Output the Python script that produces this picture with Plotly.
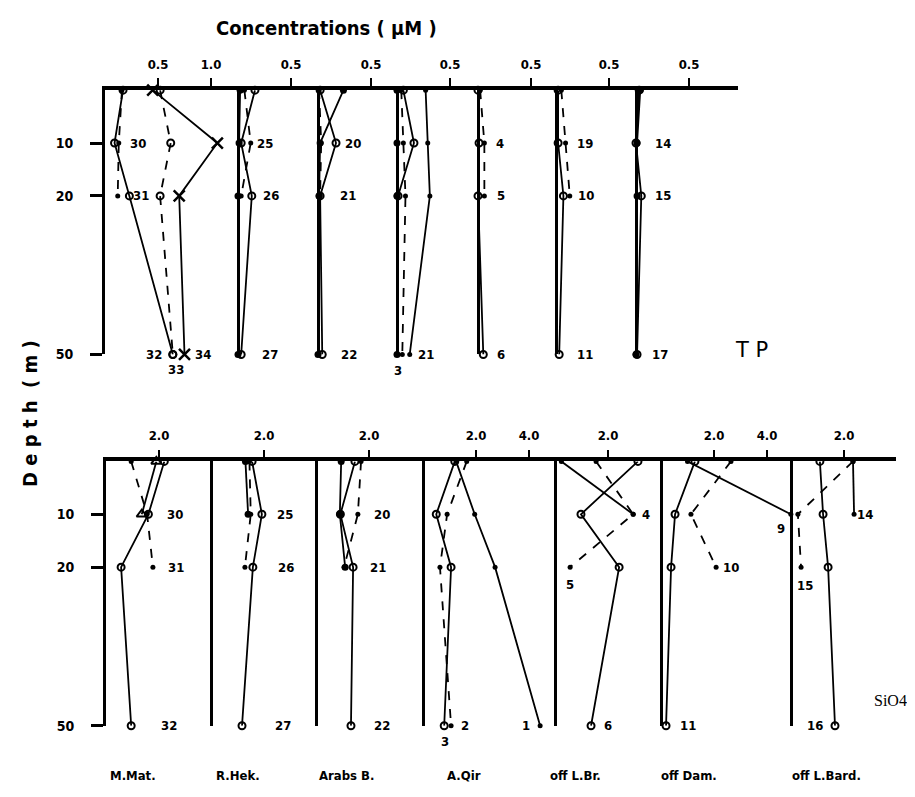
import plotly.graph_objects as go

# ---------------- data ----------------
DEPTHS = [0, 10, 20, 50]
STATIONS = ["M.Mat.", "R.Hek.", "Arabs B.", "A.Qir", "off L.Br.", "off Dam.", "off L.Bard."]

# Total phosphorus (µM), values at DEPTHS (shorter lists stop at 20 m)
TP_MMAT_OPEN = [0.17, 0.09, 0.23, 0.64]
TP_MMAT_X = [0.45, 1.06, 0.70, 0.75]
TP_MMAT_DASHO = [0.52, 0.62, 0.52, 0.64]
TP_MMAT_DASH = [0.16, 0.13, 0.12]
TP_RHEK_OPEN = [0.16, 0.03, 0.13, 0.03]
TP_RHEK_DASH = [0.06, 0.12, 0.03]
TP_RHEK_FILL = [0.02, 0.01, 0.0, 0.0]
TP_ARABS_OPEN = [0.02, 0.17, 0.02, 0.04]
TP_ARABS_FILL = [0.24, 0.02, 0.01, 0.0]
TP_ARABS_DASH = [0.01, 0.03, 0.02]
TP_AQIR_FILL = [0.27, 0.29, 0.31, 0.12]
TP_AQIR_OPEN = [0.06, 0.16, 0.01]
TP_AQIR_BASE = [0.0, 0.0, 0.0, 0.0]
TP_AQIR_DASH = [0.04, 0.06, 0.08, 0.05]
TP_LBR_DASH = [0.02, 0.06, 0.06]
TP_LBR_OPEN = [0.0, 0.01, 0.0, 0.05]
TP_DAM_OPEN = [0.02, 0.02, 0.07, 0.03]
TP_DAM_DASH = [0.05, 0.09, 0.13]
TP_BARD_OPEN = [0.03, 0.0, 0.05, 0.01]
TP_BARD_FILL = [0.04, 0.01, 0.01, 0.0]

# Silicate (µM)
SI_MMAT_OPEN = [2.2, 1.6, 0.57, 0.95]
SI_MMAT_TRI = [1.9, 1.35]
SI_MMAT_DASH = [0.95, 1.55, 1.77]
SI_RHEK_OPEN = [1.55, 1.92, 1.58, 1.17]
SI_RHEK_FILL = [1.3, 1.4]
SI_RHEK_DASH = [1.45, 1.5, 1.28]
SI_ARABS_OPEN = [1.47, 0.92, 1.4, 1.32]
SI_ARABS_FILL = [0.95, 0.9, 1.1]
SI_ARABS_DASH = [1.7, 1.58, 1.06]
SI_AQIR_DOT = [1.25, 1.95, 2.72, 4.42]
SI_AQIR_OPEN = [1.2, 0.5, 1.06, 0.8]
SI_AQIR_DASH = [1.65, 0.91, 0.64, 1.06]
SI_LBR_DOT = [0.24, 2.95]
SI_LBR_OPEN = [3.13, 0.98, 2.42, 1.36]
SI_LBR_DASH = [1.55, 2.95, 0.57]
SI_DAM_DOT = [1.0, 4.9]
SI_DAM_OPEN = [1.28, 0.53, 0.38, 0.19]
SI_DAM_DASH = [2.64, 1.13, 2.08]
SI_BARD_OPEN = [1.09, 1.21, 1.40, 1.66]
SI_BARD_DOT = [2.34, 2.38]
SI_BARD_DASH = [2.34, 0.26, 0.38]

TP_TICKS = [[0.5, 1.0], [0.5], [0.5], [0.5], [0.5], [0.5], [0.5]]
SI_TICKS = [[2.0], [2.0], [2.0], [2.0, 4.0], [2.0], [2.0, 4.0], [2.0]]
DEPTH_TICKS = [10, 20, 50]

# station numbers
TP_LABEL_TEXT = [["30", "31", "32", "33", "34"], ["25", "26", "27"], ["20", "21", "22"],
                 ["21", "3"], ["4", "5", "6"], ["19", "10", "11"], ["14", "15", "17"]]
SI_LABEL_TEXT = [["30", "31", "32"], ["25", "26", "27"], ["20", "21", "22"],
                 ["1", "2", "3"], ["4", "5", "6"], ["9", "10", "11"], ["14", "15", "16"]]

# ---------------- layout constants (pixels) ----------------
W, H = 915, 797
TOP_BASE = [97, 230, 310, 389, 470, 548, 628]
TOP_END = 730
TOP_PPU = 106.0
BOT_BASE = [98, 203, 308, 415, 547, 653, 783]
BOT_END = 888
BOT_PPU = 26.5
TOP_Y0, TOP_Y50 = 83, 350
BOT_Y0, BOT_Y50 = 458, 725
FONT = "DejaVu Sans Condensed, DejaVu Sans, sans-serif"

# label placement (value units, depth, pixel shift down) per column
TP_LABEL_POS = [[(0.31, 10, 0), (0.34, 20, 0), (0.46, 50, 0), (0.67, 50, 15), (0.92, 50, 0)],
                [(0.25, 10, 0), (0.31, 20, 0), (0.30, 50, 0)],
                [(0.33, 10, 0), (0.28, 20, 0), (0.29, 50, 0)],
                [(0.27, 50, 0), (0.01, 50, 16)],
                [(0.21, 10, 0), (0.22, 20, 0), (0.22, 50, 0)],
                [(0.27, 10, 0), (0.28, 20, 0), (0.27, 50, 0)],
                [(0.25, 10, 0), (0.25, 20, 0), (0.23, 50, 0)]]
SI_LABEL_POS = [[(2.6, 10, 0), (2.64, 20, 0), (2.38, 50, 0)],
                [(2.8, 10, 0), (2.83, 20, 0), (2.72, 50, 0)],
                [(2.49, 10, 0), (2.34, 20, 0), (2.49, 50, 0)],
                [(3.9, 50, 0), (1.58, 50, 0), (0.83, 50, 16)],
                [(3.43, 10, 0), (0.57, 23.3, 0), (2.0, 50, 0)],
                [(4.53, 12.6, 0), (2.64, 20, 0), (1.02, 50, 0)],
                [(2.79, 10, 0), (0.53, 23.4, 0), (0.9, 50, 0)]]
NAME_X = [125, 230, 338, 456, 567, 681, 818]

STYLES = {
    "open": dict(dash="solid", symbol="circle-open", size=7, mlw=2),
    "fill": dict(dash="solid", symbol="circle", size=7, mlw=0),
    "tri": dict(dash="solid", symbol="triangle-up-open", size=9, mlw=2),
    "dot": dict(dash="solid", symbol="circle", size=5, mlw=0),
    "dash": dict(dash="dash", symbol="circle", size=5, mlw=0),
    "dasho": dict(dash="dash", symbol="circle-open", size=7, mlw=2),
    "x": dict(dash="solid", symbol="x-thin-open", size=11, mlw=2.5),
}

TP_SERIES = [
    (0, "open", TP_MMAT_OPEN), (0, "x", TP_MMAT_X), (0, "dasho", TP_MMAT_DASHO), (0, "dash", TP_MMAT_DASH),
    (1, "open", TP_RHEK_OPEN), (1, "dash", TP_RHEK_DASH), (1, "fill", TP_RHEK_FILL),
    (2, "open", TP_ARABS_OPEN), (2, "fill", TP_ARABS_FILL), (2, "dash", TP_ARABS_DASH),
    (3, "dot", TP_AQIR_FILL), (3, "open", TP_AQIR_OPEN), (3, "fill", TP_AQIR_BASE), (3, "dash", TP_AQIR_DASH),
    (4, "dash", TP_LBR_DASH), (4, "open", TP_LBR_OPEN),
    (5, "open", TP_DAM_OPEN), (5, "dash", TP_DAM_DASH),
    (6, "open", TP_BARD_OPEN), (6, "fill", TP_BARD_FILL),
]
SI_SERIES = [
    (0, "open", SI_MMAT_OPEN), (0, "tri", SI_MMAT_TRI), (0, "dash", SI_MMAT_DASH),
    (1, "open", SI_RHEK_OPEN), (1, "fill", SI_RHEK_FILL), (1, "dash", SI_RHEK_DASH),
    (2, "open", SI_ARABS_OPEN), (2, "fill", SI_ARABS_FILL), (2, "dash", SI_ARABS_DASH),
    (3, "dot", SI_AQIR_DOT), (3, "open", SI_AQIR_OPEN), (3, "dash", SI_AQIR_DASH),
    (4, "dot", SI_LBR_DOT), (4, "open", SI_LBR_OPEN), (4, "dash", SI_LBR_DASH),
    (5, "dot", SI_DAM_DOT), (5, "open", SI_DAM_OPEN), (5, "dash", SI_DAM_DASH),
    (6, "open", SI_BARD_OPEN), (6, "dot", SI_BARD_DOT), (6, "dash", SI_BARD_DASH),
]

fig = go.Figure()


def xname(k):
    return "x" if k == 1 else f"x{k}"


def add_series(series, offset, yname):
    for col, style, vals in series:
        st = STYLES[style]
        fig.add_trace(go.Scatter(
            x=vals, y=DEPTHS[:len(vals)], xaxis=xname(col + 1 + offset), yaxis=yname,
            mode="lines+markers", cliponaxis=False, showlegend=False, hoverinfo="skip",
            line=dict(color="black", width=1.8, dash=st["dash"]),
            marker=dict(symbol=st["symbol"], size=st["size"], color="black",
                        line=dict(color="black", width=st["mlw"])),
        ))


add_series(TP_SERIES, 0, "y")
add_series(SI_SERIES, 7, "y2")

tickfont = dict(family=FONT, size=13, color="black", weight="bold")
axes = {}


def make_x(k, base, end, ppu, ticks, yname):
    pad = 0 if base in (TOP_BASE[0], BOT_BASE[0]) else 3
    key = "xaxis" if k == 1 else f"xaxis{k}"
    axes[key] = dict(
        domain=[(base - pad) / W, end / W], range=[-pad / ppu, (end - base) / ppu],
        anchor=yname, side="top", showline=True, linewidth=3.5, linecolor="black",
        ticks="outside", ticklen=8, tickwidth=2, tickcolor="black",
        tickvals=ticks, ticktext=[f"{t:.1f}" for t in ticks], tickfont=tickfont,
        ticklabelstandoff=4,
        zeroline=pad > 0, zerolinewidth=3, zerolinecolor="black",
        showgrid=False, fixedrange=True,
    )


for i in range(7):
    make_x(i + 1, TOP_BASE[i], TOP_END, TOP_PPU, TP_TICKS[i], "y")
    make_x(i + 8, BOT_BASE[i], BOT_END, BOT_PPU, SI_TICKS[i], "y2")

ycommon = dict(range=[50, 0], showline=True, linewidth=3, linecolor="black",
               ticks="outside", ticklen=12, tickwidth=2.5, tickcolor="black",
               tickvals=DEPTH_TICKS, tickfont=dict(family=FONT, size=14, color="black", weight="bold"),
               ticklabelstandoff=14, showgrid=False, zeroline=False, fixedrange=True)
axes["yaxis"] = dict(domain=[1 - TOP_Y50 / H, 1 - TOP_Y0 / H], anchor="x", **ycommon)
axes["yaxis2"] = dict(domain=[1 - BOT_Y50 / H, 1 - BOT_Y0 / H], anchor="x8", **ycommon)
fig.update_layout(**axes)

ann = []
lblfont = dict(family=FONT, size=13, color="black", weight="bold")
for i in range(7):
    for txt, (xv, d, sh) in zip(TP_LABEL_TEXT[i], TP_LABEL_POS[i]):
        ann.append(dict(x=xv, y=d, xref=xname(i + 1), yref="y", text=txt, showarrow=False,
                        font=lblfont, xanchor="center", yanchor="middle", yshift=-sh))
    for txt, (xv, d, sh) in zip(SI_LABEL_TEXT[i], SI_LABEL_POS[i]):
        ann.append(dict(x=xv, y=d, xref=xname(i + 8), yref="y2", text=txt, showarrow=False,
                        font=lblfont, xanchor="center", yanchor="middle", yshift=-sh))
    ann.append(dict(x=NAME_X[i] / W, y=1 - 775 / H, xref="paper", yref="paper", text=STATIONS[i],
                    showarrow=False, font=dict(family=FONT, size=13, color="black", weight="bold"),
                    xanchor="center", yanchor="middle"))

ann.append(dict(x=318 / W, y=1 - 20 / H, xref="paper", yref="paper", text="Concentrations ( μM )",
                showarrow=False, font=dict(family=FONT, size=20, color="black", weight="bold"),
                xanchor="center", yanchor="middle"))
ann.append(dict(x=22 / W, y=1 - 410 / H, xref="paper", yref="paper", text="D e p t h  ( m )",
                textangle=-90, showarrow=False,
                font=dict(family=FONT, size=20, color="black", weight="bold"),
                xanchor="center", yanchor="middle"))
ann.append(dict(x=743 / W, y=1 - 345 / H, xref="paper", yref="paper", text="T P",
                showarrow=False, font=dict(family="DejaVu Sans", size=21, color="black"),
                xanchor="center", yanchor="middle"))
ann.append(dict(x=882 / W, y=1 - 700 / H, xref="paper", yref="paper", text="SiO4",
                showarrow=False, font=dict(family="Liberation Serif", size=16, color="black"),
                xanchor="center", yanchor="middle"))

fig.update_layout(width=W, height=H, margin=dict(l=0, r=0, t=0, b=0),
                  paper_bgcolor="white", plot_bgcolor="rgba(0,0,0,0)",
                  annotations=ann, showlegend=False)

fig.write_html("out.html")
